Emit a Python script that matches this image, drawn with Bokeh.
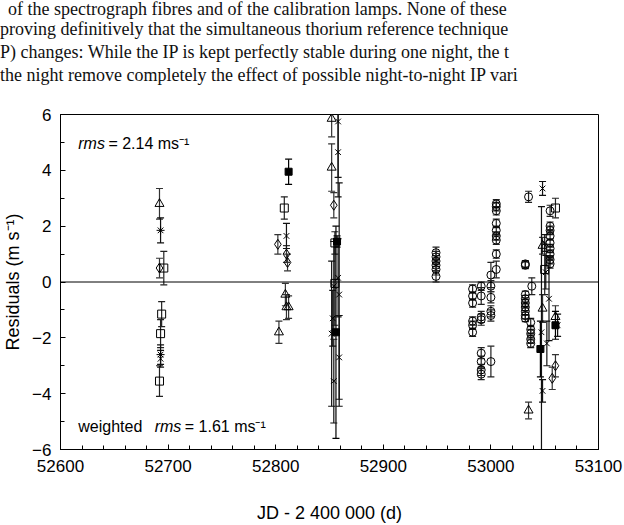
from bokeh.plotting import figure
from bokeh.models import ColumnDataSource, Whisker, TeeHead, Span, Label, FixedTicker, Div
from bokeh.layouts import column
from bokeh.embed import file_html
from bokeh.resources import INLINE

# ---------------- data (JD - 2400000, residual m/s, error m/s) ----------------
circ_jd = [52949, 52949, 52949, 52949, 52949, 52949,
           52983, 52983, 52983, 52983, 52983, 52983,
           52991, 52991, 52991, 52991, 52991, 52991, 52991, 52991,
           53000, 53000, 53000, 53000, 53000, 53000,
           53005, 53005, 53005, 53005, 53005, 53005, 53005, 53005, 53005,
           53035, 53032, 53032, 53032, 53032, 53032, 53032, 53032, 53032, 53032,
           53037, 53037, 53037, 53037, 53037, 53038,
           53055, 53055, 53055, 53055, 53055, 53055, 53055, 53055, 53055]
circ_res = [1.05, 0.9, 0.75, 0.6, 0.45, 0.2,
            -0.25, -0.5, -0.75, -1.4, -1.55, -1.8,
            -0.15, -0.5, -1.25, -1.35, -2.55, -2.85, -3.15, -3.3,
            0.25, -0.15, -0.55, -1.05, -1.2, -2.85,
            2.8, 2.7, 2.55, 2.1, 1.85, 1.65, 1.5, 1.0, 0.45,
            3.05, 0.65, 0.6, -0.45, -0.6, -0.75, -0.9, -1.05, -1.2, -1.3,
            -1.45, -1.7, -1.85, -2.05, -2.2, -0.15,
            2.55, 2.0, 1.85, 1.65, 1.4, 1.2, 1.0, 0.8, 0.65]
circ_err = [0.2, 0.2, 0.2, 0.2, 0.2, 0.2,
            0.15, 0.15, 0.15, 0.15, 0.15, 0.15,
            0.15, 0.3, 0.2, 0.2, 0.2, 0.2, 0.2, 0.2,
            0.45, 0.2, 0.2, 0.2, 0.2, 0.55,
            0.15, 0.15, 0.15, 0.15, 0.15, 0.15, 0.15, 0.15, 0.3,
            0.2, 0.12, 0.12, 0.12, 0.12, 0.12, 0.12, 0.12, 0.12, 0.12,
            0.15, 0.15, 0.15, 0.15, 0.15, 0.3,
            0.2, 0.15, 0.15, 0.15, 0.15, 0.15, 0.15, 0.15, 0.15]

tri_jd = [52692, 52809, 52810, 52812, 52803, 52852, 52852, 53035, 53048, 53048, 53060]
tri_res = [2.8, -0.45, -0.9, -0.9, -1.8, 5.85, 4.1, -4.6, 1.3, -0.95, -1.25]
tri_err = [0.55, 0.4, 0.45, 0.4, 0.4, 0.65, 0.85, 0.3, 0.3, 0.5, 0.4]

sq_jd = [52696, 52694, 52693, 52692, 52808, 52855, 52855, 53060, 53050]
sq_res = [0.5, -1.15, -1.85, -3.55, 2.65, 1.4, -0.05, 2.65, 0.45]
sq_err = [0.6, 0.45, 0.5, 0.55, 0.4, 0.4, 1.5, 0.35, 0.9]

fsq_jd = [52812, 52857, 52856, 53046, 53060]
fsq_res = [3.95, 1.45, -1.8, -2.4, -1.55]
fsq_err = [0.45, 0.2, 3.8, 1.0, 0.5]

dia_jd = [52692, 52802, 52810, 52811, 52854, 53060, 53057]
dia_res = [0.5, 1.35, 1.0, 0.7, 2.75, -3.0, -3.45]
dia_err = [0.35, 0.35, 0.3, 0.3, 0.45, 0.4, 0.4]

x_jd = [52693, 52810, 52858, 52858, 52858, 52854, 52859, 52853, 52852, 52859, 52854,
        53048, 53050, 53051, 53054, 53047, 53052, 53048, 53062]
x_res = [-2.75, 1.65, 5.75, 4.65, 0.15, -0.15, -0.45, -1.3, -1.85, -2.7, -3.55,
         3.35, 1.4, 0.35, -0.6, -1.8, -2.2, -3.9, -1.55]
x_err = [0.3, 0.45, 2.0, 1.6, 1.4, 1.6, 4.0, 1.0, 2.6, 1.5, 1.5,
         0.25, 0.3, 0.6, 1.5, 4.5, 0.8, 0.4, 0.4]

ast_jd = [52693, 52693]
ast_res = [1.85, -2.6]
ast_err = [0.45, 0.35]

x_ticks = [52600, 52700, 52800, 52900, 53000, 53100]
y_ticks = [-6, -4, -2, 0, 2, 4, 6]

paper_lines = [
    "of the spectrograph fibres and of the calibration lamps. None of these",
    "proving definitively that the simultaneous thorium reference technique",
    "P) changes: While the IP is kept perfectly stable during one night, the t",
    "the night remove completely the effect of possible night-to-night IP vari",
]
paper_indent = [8, 0, 0, 0]
paper_row_h = [18, 23, 23, 23]

TOP_H = 100

# ---------------- page text above the chart ----------------
rows = "".join(
    f'<div style="padding-left:{ind}px;height:{h}px;line-height:{h}px;">{line}</div>'
    for line, ind, h in zip(paper_lines, paper_indent, paper_row_h))
html = ('<div style="margin-top:0;font-family:\'Liberation Serif\';font-size:18px;'
        'white-space:nowrap;color:#111111;">' + rows + '</div>')
div = Div(text=html, width=624, height=TOP_H, styles={"overflow": "hidden", "margin": "0", "padding": "0"})

# ---------------- figure ----------------
p = figure(width=624, height=525 - TOP_H, x_range=(52600, 53100), y_range=(-6, 6),
           output_backend="svg", toolbar_location=None,
           min_border_left=60, min_border_right=26, min_border_top=114 - TOP_H,
           min_border_bottom=76)
p.background_fill_color = "white"
p.border_fill_color = "white"
p.outline_line_color = "black"
p.outline_line_width = 1
p.grid.visible = False

SANS = "Liberation Sans"
for ax in (p.xaxis[0], p.yaxis[0]):
    ax.major_tick_in = 5
    ax.major_tick_out = 0
    ax.minor_tick_in = 4
    ax.minor_tick_out = 0
    ax.axis_line_color = "black"
    ax.major_label_text_font = SANS
    ax.major_label_text_font_size = "17px"
    ax.major_label_text_color = "black"
    ax.axis_label_text_font = SANS
    ax.axis_label_text_font_size = "18px"
    ax.axis_label_text_font_style = "normal"
    ax.axis_label_text_color = "black"

p.xaxis.major_label_standoff = 10
p.yaxis.major_label_standoff = 9
p.xaxis.ticker = FixedTicker(ticks=x_ticks, minor_ticks=list(range(52600, 53101, 20)))
p.yaxis.ticker = FixedTicker(ticks=y_ticks, minor_ticks=list(range(-6, 7, 1)))
p.xaxis.axis_label = "JD - 2 400 000 (d)"
p.yaxis.axis_label = "Residuals (m s\u207b\u00b9)"
p.xaxis.axis_label_standoff = 28
p.yaxis.axis_label_standoff = 6

p.add_layout(Span(location=0, dimension="width", line_color="black", line_width=1))


def series(jd, res, err, marker, size, fill=None, ecol="black"):
    src = ColumnDataSource(dict(x=jd, y=res,
                                lo=[r - e for r, e in zip(res, err)],
                                hi=[r + e for r, e in zip(res, err)]))
    w = Whisker(base="x", upper="hi", lower="lo", source=src, dimension="height",
                line_color=ecol, line_width=1.2,
                upper_head=TeeHead(size=7, line_color=ecol, line_width=1.2),
                lower_head=TeeHead(size=7, line_color=ecol, line_width=1.2))
    p.add_layout(w)
    p.scatter("x", "y", source=src, marker=marker, size=size,
              line_color="black", line_width=1,
              fill_color=fill if fill else None)


series(circ_jd, circ_res, circ_err, "circle", 8, ecol="#222222")
series(tri_jd, tri_res, tri_err, "triangle", 9, ecol="#333333")
series(sq_jd, sq_res, sq_err, "square", 8, ecol="#222222")
series(fsq_jd, fsq_res, fsq_err, "square", 7, fill="black", ecol="black")
series(dia_jd, dia_res, dia_err, "diamond", 10, ecol="#333333")
series(x_jd, x_res, x_err, "x", 8, ecol="#111111")
series(ast_jd, ast_res, ast_err, "asterisk", 8, ecol="#111111")


def lab(x, y, txt, style="normal", size="16px"):
    p.add_layout(Label(x=x, y=y, text=txt, text_font=SANS, text_font_size=size,
                       text_font_style=style, text_color="black", text_baseline="alphabetic"))


lab(52616.5, 4.97, "rms", "italic")
lab(52644.5, 4.97, "= 2.14 ms\u207b\u00b9")
lab(52616.5, -5.18, "weighted")
lab(52687.5, -5.18, "rms", "italic")
lab(52715.5, -5.18, "= 1.61 ms\u207b\u00b9")

open("out.html", "w").write(file_html(column(div, p, spacing=0), INLINE))
